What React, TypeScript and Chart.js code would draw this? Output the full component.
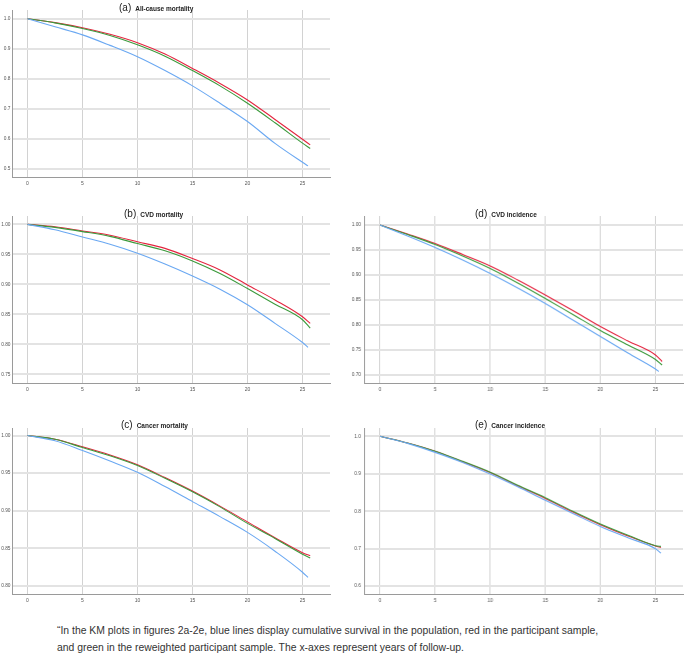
import React, { useEffect, useRef } from "react";
import { Chart, registerables } from "chart.js";

Chart.register(...registerables);

// ---------- data ----------
const YEARS = [0, 2.5, 5, 7.5, 10, 12.5, 15, 17.5, 20, 22.5, 25];
const X_TICKS = [0, 5, 10, 15, 20, 25];

// (a) All-cause mortality
const A_END_POP = 25.5;
const A_END_PART = 25.7;
const A_POP = [1, 0.973, 0.946, 0.911, 0.873, 0.827, 0.776, 0.718, 0.657, 0.584, 0.521, 0.509];
const A_PART = [1, 0.987, 0.97, 0.948, 0.92, 0.882, 0.834, 0.784, 0.729, 0.664, 0.598, 0.579];
const A_RW = [1, 0.986, 0.967, 0.944, 0.913, 0.875, 0.827, 0.776, 0.718, 0.653, 0.585, 0.567];
const A_YTICKS = [0.5, 0.6, 0.7, 0.8, 0.9, 1.0];

// (b) CVD mortality
const B_END_POP = 25.5;
const B_END_PART = 25.7;
const B_POP = [1, 0.991, 0.979, 0.967, 0.952, 0.934, 0.914, 0.892, 0.866, 0.835, 0.803, 0.795];
const B_PART = [1, 0.996, 0.989, 0.982, 0.971, 0.96, 0.943, 0.924, 0.899, 0.874, 0.846, 0.835];
const B_RW = [1, 0.995, 0.988, 0.98, 0.968, 0.956, 0.939, 0.918, 0.893, 0.867, 0.841, 0.827];
const B_YTICKS = [0.75, 0.8, 0.85, 0.9, 0.95, 1.0];

// (c) Cancer mortality
const C_END_POP = 25.5;
const C_END_PART = 25.7;
const C_POP = [1, 0.993, 0.98, 0.966, 0.951, 0.932, 0.912, 0.892, 0.871, 0.846, 0.818, 0.811];
const C_PART = [1, 0.995, 0.985, 0.974, 0.961, 0.944, 0.926, 0.906, 0.885, 0.864, 0.844, 0.84];
const C_RW = [1, 0.995, 0.984, 0.973, 0.96, 0.943, 0.925, 0.905, 0.883, 0.863, 0.842, 0.837];
const C_YTICKS = [0.8, 0.85, 0.9, 0.95, 1.0];

// (d) CVD incidence
const D_END_POP = 25.3;
const D_END_PART = 25.6;
const D_POP = [1, 0.978, 0.955, 0.93, 0.903, 0.874, 0.843, 0.81, 0.777, 0.744, 0.712, 0.707];
const D_PART = [1, 0.982, 0.963, 0.941, 0.918, 0.89, 0.86, 0.829, 0.797, 0.768, 0.74, 0.727];
const D_RW = [1, 0.981, 0.961, 0.938, 0.913, 0.884, 0.853, 0.821, 0.789, 0.76, 0.731, 0.72];
const D_YTICKS = [0.7, 0.75, 0.8, 0.85, 0.9, 0.95, 1.0];

// (e) Cancer incidence
const E_END_POP = 25.5;
const E_END_PART = 25.5;
const E_POP = [1, 0.981, 0.957, 0.93, 0.899, 0.865, 0.829, 0.794, 0.759, 0.729, 0.7, 0.688];
const E_PART = [1, 0.982, 0.96, 0.932, 0.903, 0.868, 0.834, 0.798, 0.764, 0.734, 0.707, 0.703];
const E_RW = [1, 0.982, 0.96, 0.933, 0.904, 0.869, 0.836, 0.8, 0.766, 0.736, 0.708, 0.706];
const E_YTICKS = [0.6, 0.7, 0.8, 0.9, 1.0];

const BLUE = "#6aa8f2";
const RED = "#e4253f";
const GREEN = "#3c9a3c";

// ---------- helpers ----------
const pts = (vals: number[], end: number) =>
  vals.map((v, i) => ({ x: i < YEARS.length ? YEARS[i] : end, y: v }));

const XH = 12;
const PT = 8;
const PR = 6;

type PanelProps = {
  left: number;
  top: number;
  width: number;
  height: number;
  yw: number;
  ypad: number;
  xmin: number;
  xmax: number;
  ymin: number;
  ymax: number;
  yticks: number[];
  dec: number;
  pop: number[];
  part: number[];
  rw: number[];
  endPop: number;
  endPart: number;
};

function Panel(p: PanelProps) {
  const ref = useRef<HTMLCanvasElement | null>(null);
  useEffect(() => {
    if (!ref.current) return;
    const chart = new Chart(ref.current, {
      type: "line",
      data: {
        datasets: [
          { data: pts(p.pop, p.endPop), borderColor: BLUE },
          { data: pts(p.rw, p.endPart), borderColor: GREEN },
          { data: pts(p.part, p.endPart), borderColor: RED },
        ] as any,
      },
      options: {
        animation: false,
        responsive: false,
        maintainAspectRatio: false,
        layout: { padding: { top: PT, right: PR, left: 0, bottom: 0 } },
        plugins: {
          legend: { display: false },
          tooltip: { enabled: false },
          title: { display: false },
        },
        elements: {
          point: { radius: 0 },
          line: { borderWidth: 1.1, tension: 0.3, cubicInterpolationMode: "monotone" },
        },
        scales: {
          x: {
            type: "linear",
            min: p.xmin,
            max: p.xmax,
            afterBuildTicks: (s: any) => {
              s.ticks = X_TICKS.map((v) => ({ value: v }));
            },
            afterFit: (s: any) => {
              s.height = XH;
            },
            grid: { color: "#d2d2d2", lineWidth: 1, drawTicks: false },
            border: { color: "#9a9a9a", width: 1 },
            ticks: {
              font: { size: 5, family: "Liberation Sans" },
              color: "#555",
              padding: 4,
              maxRotation: 0,
              autoSkip: false,
              callback: (v: any) => String(v),
            },
          },
          y: {
            type: "linear",
            min: p.ymin,
            max: p.ymax,
            afterBuildTicks: (s: any) => {
              s.ticks = p.yticks.map((v) => ({ value: v }));
            },
            afterFit: (s: any) => {
              s.width = p.yw;
            },
            grid: { color: "#e3e3e3", lineWidth: 2, drawTicks: false },
            border: { color: "#9a9a9a", width: 1 },
            ticks: {
              font: { size: 4.8, family: "Liberation Sans" },
              color: "#555",
              padding: p.ypad,
              autoSkip: false,
              callback: (v: any) => Number(v).toFixed(p.dec),
            },
          },
        },
      } as any,
    });
    return () => chart.destroy();
  }, []);
  const cw = p.yw + p.width + PR;
  const ch = PT + p.height + XH;
  return (
    <canvas
      ref={ref}
      width={cw}
      height={ch}
      style={{
        position: "absolute",
        left: p.left - p.yw,
        top: p.top - PT,
        width: cw,
        height: ch,
      }}
    />
  );
}

function Title({ x, y, tag, text }: { x: number; y: number; tag: string; text: string }) {
  return (
    <div
      style={{
        position: "absolute",
        left: x,
        top: y - 7,
        height: 14,
        lineHeight: "14px",
        whiteSpace: "nowrap",
        fontFamily: "'Liberation Sans', Arial, sans-serif",
        color: "#222",
      }}
    >
      <span style={{ fontSize: 10 }}>{tag}</span>
      <span style={{ fontSize: 6.5, fontWeight: "bold", marginLeft: 4 }}>{text}</span>
    </div>
  );
}

export default function App() {
  const L = { left: 12, width: 318, yw: 12, ypad: 1.5, xmin: -1.41, xmax: 27.5 };
  const R = { left: 364, width: 318.5, yw: 16, ypad: 3, xmin: -1.45, xmax: 27.5 };
  return (
    <div
      style={{
        position: "absolute",
        left: 0,
        top: 0,
        width: 685,
        height: 659,
        overflow: "hidden",
        background: "#fff",
      }}
    >
      <Panel {...L} top={10} height={167} ymin={0.472} ymax={1.029} yticks={A_YTICKS} dec={1}
        pop={A_POP} part={A_PART} rw={A_RW} endPop={A_END_POP} endPart={A_END_PART} />
      <Panel {...L} top={216} height={167} ymin={0.7355} ymax={1.014} yticks={B_YTICKS} dec={2}
        pop={B_POP} part={B_PART} rw={B_RW} endPop={B_END_POP} endPart={B_END_PART} />
      <Panel {...L} top={428} height={166} ymin={0.789} ymax={1.01} yticks={C_YTICKS} dec={2}
        pop={C_POP} part={C_PART} rw={C_RW} endPop={C_END_POP} endPart={C_END_PART} />
      <Panel {...R} top={216} height={167} ymin={0.684} ymax={1.018} yticks={D_YTICKS} dec={2}
        pop={D_POP} part={D_PART} rw={D_RW} endPop={D_END_POP} endPart={D_END_PART} />
      <Panel {...R} top={428} height={166} ymin={0.579} ymax={1.022} yticks={E_YTICKS} dec={1}
        pop={E_POP} part={E_PART} rw={E_RW} endPop={E_END_POP} endPart={E_END_PART} />

      <Title x={119} y={6} tag="(a)" text="All-cause mortality" />
      <Title x={124} y={212} tag="(b)" text="CVD mortality" />
      <Title x={121} y={423} tag="(c)" text="Cancer mortality" />
      <Title x={475} y={212} tag="(d)" text="CVD incidence" />
      <Title x={475} y={423} tag="(e)" text="Cancer incidence" />

      <div
        style={{
          position: "absolute",
          left: 57,
          top: 622,
          fontFamily: "'Liberation Sans', Arial, sans-serif",
          fontSize: 10.4,
          lineHeight: "17px",
          color: "#333",
          whiteSpace: "nowrap",
        }}
      >
        <div>“In the KM plots in figures 2a-2e, blue lines display cumulative survival in the population, red in the participant sample,</div>
        <div>and green in the reweighted participant sample. The x-axes represent years of follow-up.</div>
      </div>
    </div>
  );
}
